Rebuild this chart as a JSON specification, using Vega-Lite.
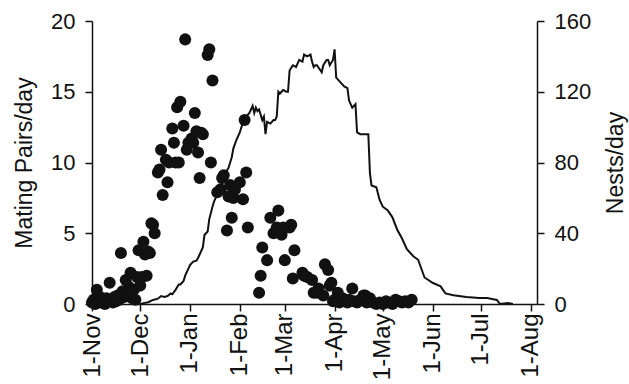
{
  "$schema": "https://vega.github.io/schema/vega-lite/v6.json",
  "width": 445,
  "height": 283,
  "autosize": {"type": "none"},
  "padding": {"left": 92, "top": 21, "right": 92, "bottom": 80},
  "background": "white",
  "config": {
    "view": {"stroke": null},
    "font": "Liberation Sans",
    "axis": {
      "grid": false,
      "domainColor": "#111",
      "domainWidth": 1.5,
      "tickColor": "#111",
      "tickWidth": 1.5,
      "tickSize": 7,
      "labelColor": "#111",
      "labelFont": "Liberation Sans",
      "labelFontSize": 22,
      "titleFont": "Liberation Sans",
      "titleFontSize": 23,
      "titleFontWeight": "normal",
      "titleColor": "#111"
    }
  },
  "datasets": {
    "pairs": [
      {"date": "2000-11-01", "pairs": 0.1},
      {"date": "2000-11-02", "pairs": 0.3},
      {"date": "2000-11-03", "pairs": 0.0},
      {"date": "2000-11-04", "pairs": 1.0},
      {"date": "2000-11-05", "pairs": 0.2},
      {"date": "2000-11-06", "pairs": 0.5},
      {"date": "2000-11-07", "pairs": 0.1},
      {"date": "2000-11-08", "pairs": 0.3},
      {"date": "2000-11-09", "pairs": 0.0},
      {"date": "2000-11-10", "pairs": 0.4},
      {"date": "2000-11-11", "pairs": 0.2},
      {"date": "2000-11-12", "pairs": 1.5},
      {"date": "2000-11-13", "pairs": 0.3},
      {"date": "2000-11-14", "pairs": 0.1},
      {"date": "2000-11-15", "pairs": 0.5},
      {"date": "2000-11-16", "pairs": 0.2},
      {"date": "2000-11-17", "pairs": 0.6},
      {"date": "2000-11-18", "pairs": 0.3},
      {"date": "2000-11-19", "pairs": 3.6},
      {"date": "2000-11-20", "pairs": 0.9},
      {"date": "2000-11-21", "pairs": 0.5},
      {"date": "2000-11-22", "pairs": 1.7},
      {"date": "2000-11-23", "pairs": 0.6},
      {"date": "2000-11-24", "pairs": 1.2},
      {"date": "2000-11-25", "pairs": 2.2},
      {"date": "2000-11-26", "pairs": 0.4},
      {"date": "2000-11-27", "pairs": 1.0},
      {"date": "2000-11-28", "pairs": 0.3},
      {"date": "2000-11-29", "pairs": 1.9},
      {"date": "2000-11-30", "pairs": 3.8},
      {"date": "2000-12-01", "pairs": 1.3},
      {"date": "2000-12-02", "pairs": 1.9},
      {"date": "2000-12-03", "pairs": 4.4},
      {"date": "2000-12-04", "pairs": 3.5},
      {"date": "2000-12-05", "pairs": 2.0},
      {"date": "2000-12-06", "pairs": 3.7},
      {"date": "2000-12-07", "pairs": 3.6},
      {"date": "2000-12-08", "pairs": 5.7},
      {"date": "2000-12-09", "pairs": 5.6},
      {"date": "2000-12-10", "pairs": 5.0},
      {"date": "2000-12-12", "pairs": 9.3},
      {"date": "2000-12-13", "pairs": 9.5},
      {"date": "2000-12-14", "pairs": 10.9},
      {"date": "2000-12-15", "pairs": 7.7},
      {"date": "2000-12-17", "pairs": 10.2},
      {"date": "2000-12-18", "pairs": 8.6},
      {"date": "2000-12-19", "pairs": 10.0},
      {"date": "2000-12-21", "pairs": 12.4},
      {"date": "2000-12-22", "pairs": 11.4},
      {"date": "2000-12-23", "pairs": 10.0},
      {"date": "2000-12-24", "pairs": 13.9},
      {"date": "2000-12-25", "pairs": 10.0},
      {"date": "2000-12-26", "pairs": 14.3},
      {"date": "2000-12-28", "pairs": 12.6},
      {"date": "2000-12-29", "pairs": 18.7},
      {"date": "2000-12-30", "pairs": 10.9},
      {"date": "2000-12-31", "pairs": 11.4},
      {"date": "2001-01-02", "pairs": 11.7},
      {"date": "2001-01-03", "pairs": 11.4},
      {"date": "2001-01-04", "pairs": 13.5},
      {"date": "2001-01-05", "pairs": 12.2},
      {"date": "2001-01-06", "pairs": 10.7},
      {"date": "2001-01-07", "pairs": 8.9},
      {"date": "2001-01-08", "pairs": 12.1},
      {"date": "2001-01-09", "pairs": 12.0},
      {"date": "2001-01-12", "pairs": 17.6},
      {"date": "2001-01-13", "pairs": 18.0},
      {"date": "2001-01-14", "pairs": 10.0},
      {"date": "2001-01-15", "pairs": 15.8},
      {"date": "2001-01-18", "pairs": 7.9},
      {"date": "2001-01-20", "pairs": 8.1},
      {"date": "2001-01-21", "pairs": 8.9},
      {"date": "2001-01-22", "pairs": 9.1},
      {"date": "2001-01-24", "pairs": 5.2},
      {"date": "2001-01-25", "pairs": 7.6},
      {"date": "2001-01-26", "pairs": 8.4},
      {"date": "2001-01-27", "pairs": 6.1},
      {"date": "2001-01-28", "pairs": 7.5},
      {"date": "2001-01-29", "pairs": 8.1},
      {"date": "2001-02-01", "pairs": 8.6},
      {"date": "2001-02-03", "pairs": 7.4},
      {"date": "2001-02-04", "pairs": 13.0},
      {"date": "2001-02-05", "pairs": 9.3},
      {"date": "2001-02-06", "pairs": 5.4},
      {"date": "2001-02-13", "pairs": 0.8},
      {"date": "2001-02-14", "pairs": 2.0},
      {"date": "2001-02-15", "pairs": 4.0},
      {"date": "2001-02-18", "pairs": 3.1},
      {"date": "2001-02-20", "pairs": 6.1},
      {"date": "2001-02-22", "pairs": 5.0},
      {"date": "2001-02-24", "pairs": 5.4},
      {"date": "2001-02-25", "pairs": 6.6},
      {"date": "2001-02-27", "pairs": 4.9},
      {"date": "2001-02-28", "pairs": 5.4},
      {"date": "2001-03-01", "pairs": 3.1},
      {"date": "2001-03-04", "pairs": 5.4},
      {"date": "2001-03-05", "pairs": 5.6},
      {"date": "2001-03-06", "pairs": 1.8},
      {"date": "2001-03-07", "pairs": 3.8},
      {"date": "2001-03-12", "pairs": 2.2},
      {"date": "2001-03-13", "pairs": 2.0},
      {"date": "2001-03-15", "pairs": 1.9},
      {"date": "2001-03-18", "pairs": 1.7},
      {"date": "2001-03-19", "pairs": 0.8},
      {"date": "2001-03-21", "pairs": 0.8},
      {"date": "2001-03-22", "pairs": 1.1},
      {"date": "2001-03-25", "pairs": 0.6},
      {"date": "2001-03-26", "pairs": 2.8},
      {"date": "2001-03-28", "pairs": 2.4},
      {"date": "2001-03-29", "pairs": 1.3},
      {"date": "2001-03-30", "pairs": 1.5},
      {"date": "2001-03-31", "pairs": 0.2},
      {"date": "2001-04-01", "pairs": 0.3},
      {"date": "2001-04-03", "pairs": 0.8},
      {"date": "2001-04-04", "pairs": 0.1},
      {"date": "2001-04-06", "pairs": 0.4},
      {"date": "2001-04-07", "pairs": 0.2},
      {"date": "2001-04-09", "pairs": 0.1},
      {"date": "2001-04-10", "pairs": 0.3},
      {"date": "2001-04-12", "pairs": 1.1},
      {"date": "2001-04-13", "pairs": 0.2},
      {"date": "2001-04-15", "pairs": 0.1},
      {"date": "2001-04-17", "pairs": 0.3},
      {"date": "2001-04-19", "pairs": 0.6},
      {"date": "2001-04-20", "pairs": 0.6},
      {"date": "2001-04-21", "pairs": 0.1},
      {"date": "2001-04-23", "pairs": 0.4},
      {"date": "2001-04-25", "pairs": 0.1},
      {"date": "2001-04-27", "pairs": 0.0},
      {"date": "2001-04-29", "pairs": 0.1},
      {"date": "2001-05-01", "pairs": 0.0},
      {"date": "2001-05-03", "pairs": 0.2},
      {"date": "2001-05-05", "pairs": 0.1},
      {"date": "2001-05-07", "pairs": 0.0},
      {"date": "2001-05-09", "pairs": 0.3},
      {"date": "2001-05-11", "pairs": 0.2},
      {"date": "2001-05-13", "pairs": 0.1},
      {"date": "2001-05-15", "pairs": 0.2},
      {"date": "2001-05-17", "pairs": 0.1},
      {"date": "2001-05-19", "pairs": 0.3}
    ],
    "nests": [
      {"date": "2000-12-01", "nests": 0},
      {"date": "2000-12-03", "nests": 0.5},
      {"date": "2000-12-06", "nests": 1},
      {"date": "2000-12-09", "nests": 2.3},
      {"date": "2000-12-12", "nests": 3},
      {"date": "2000-12-14", "nests": 4.5},
      {"date": "2000-12-16", "nests": 4},
      {"date": "2000-12-18", "nests": 4.5},
      {"date": "2000-12-20", "nests": 6},
      {"date": "2000-12-21", "nests": 5.5},
      {"date": "2000-12-23", "nests": 8},
      {"date": "2000-12-25", "nests": 11},
      {"date": "2000-12-26", "nests": 11},
      {"date": "2000-12-28", "nests": 13},
      {"date": "2000-12-29", "nests": 16},
      {"date": "2000-12-31", "nests": 20},
      {"date": "2001-01-01", "nests": 22},
      {"date": "2001-01-03", "nests": 24},
      {"date": "2001-01-05", "nests": 24.5},
      {"date": "2001-01-06", "nests": 26},
      {"date": "2001-01-07", "nests": 28},
      {"date": "2001-01-09", "nests": 32},
      {"date": "2001-01-10", "nests": 39},
      {"date": "2001-01-12", "nests": 41},
      {"date": "2001-01-13", "nests": 48},
      {"date": "2001-01-15", "nests": 55},
      {"date": "2001-01-16", "nests": 58},
      {"date": "2001-01-17", "nests": 60},
      {"date": "2001-01-18", "nests": 63},
      {"date": "2001-01-20", "nests": 66},
      {"date": "2001-01-21", "nests": 68},
      {"date": "2001-01-23", "nests": 74},
      {"date": "2001-01-25", "nests": 77},
      {"date": "2001-01-26", "nests": 80},
      {"date": "2001-01-27", "nests": 83},
      {"date": "2001-01-28", "nests": 88},
      {"date": "2001-01-30", "nests": 93},
      {"date": "2001-02-01", "nests": 97},
      {"date": "2001-02-02", "nests": 100},
      {"date": "2001-02-04", "nests": 104},
      {"date": "2001-02-05", "nests": 106},
      {"date": "2001-02-07", "nests": 108},
      {"date": "2001-02-09", "nests": 112},
      {"date": "2001-02-10", "nests": 108},
      {"date": "2001-02-11", "nests": 111},
      {"date": "2001-02-12", "nests": 109},
      {"date": "2001-02-13", "nests": 110},
      {"date": "2001-02-15", "nests": 104},
      {"date": "2001-02-16", "nests": 106},
      {"date": "2001-02-17", "nests": 96},
      {"date": "2001-02-18", "nests": 103},
      {"date": "2001-02-20", "nests": 102},
      {"date": "2001-02-22", "nests": 104},
      {"date": "2001-02-23", "nests": 104},
      {"date": "2001-02-24", "nests": 106},
      {"date": "2001-02-25", "nests": 120},
      {"date": "2001-02-26", "nests": 119},
      {"date": "2001-02-28", "nests": 121},
      {"date": "2001-03-02", "nests": 120},
      {"date": "2001-03-03", "nests": 120},
      {"date": "2001-03-04", "nests": 132},
      {"date": "2001-03-06", "nests": 135},
      {"date": "2001-03-08", "nests": 134},
      {"date": "2001-03-09", "nests": 136},
      {"date": "2001-03-10", "nests": 138},
      {"date": "2001-03-12", "nests": 137},
      {"date": "2001-03-13", "nests": 141},
      {"date": "2001-03-15", "nests": 140},
      {"date": "2001-03-17", "nests": 141},
      {"date": "2001-03-18", "nests": 137},
      {"date": "2001-03-19", "nests": 134},
      {"date": "2001-03-20", "nests": 135},
      {"date": "2001-03-21", "nests": 135},
      {"date": "2001-03-24", "nests": 131},
      {"date": "2001-03-25", "nests": 135},
      {"date": "2001-03-27", "nests": 138},
      {"date": "2001-03-28", "nests": 138},
      {"date": "2001-03-29", "nests": 135},
      {"date": "2001-03-31", "nests": 138},
      {"date": "2001-04-01", "nests": 144},
      {"date": "2001-04-02", "nests": 128},
      {"date": "2001-04-03", "nests": 127},
      {"date": "2001-04-05", "nests": 125},
      {"date": "2001-04-07", "nests": 123},
      {"date": "2001-04-09", "nests": 122},
      {"date": "2001-04-10", "nests": 115},
      {"date": "2001-04-12", "nests": 111},
      {"date": "2001-04-14", "nests": 113},
      {"date": "2001-04-15", "nests": 97},
      {"date": "2001-04-17", "nests": 96},
      {"date": "2001-04-22", "nests": 96},
      {"date": "2001-04-23", "nests": 74},
      {"date": "2001-04-24", "nests": 67},
      {"date": "2001-04-27", "nests": 66},
      {"date": "2001-04-29", "nests": 59},
      {"date": "2001-05-01", "nests": 55},
      {"date": "2001-05-04", "nests": 53},
      {"date": "2001-05-07", "nests": 49},
      {"date": "2001-05-10", "nests": 42},
      {"date": "2001-05-13", "nests": 37},
      {"date": "2001-05-16", "nests": 31},
      {"date": "2001-05-20", "nests": 27},
      {"date": "2001-05-23", "nests": 25},
      {"date": "2001-05-27", "nests": 15},
      {"date": "2001-06-01", "nests": 12},
      {"date": "2001-06-06", "nests": 10},
      {"date": "2001-06-09", "nests": 6},
      {"date": "2001-06-14", "nests": 5},
      {"date": "2001-06-22", "nests": 4},
      {"date": "2001-06-30", "nests": 3.4},
      {"date": "2001-07-05", "nests": 3.4},
      {"date": "2001-07-11", "nests": 2.3},
      {"date": "2001-07-13", "nests": 0},
      {"date": "2001-07-18", "nests": 0.6},
      {"date": "2001-07-21", "nests": 0}
    ]
  },
  "encoding": {
    "x": {
      "field": "date",
      "type": "temporal",
      "scale": {
        "type": "utc",
        "domain": [
          {"year": 2000, "month": 11, "date": 1, "utc": true},
          {"year": 2001, "month": 8, "date": 5, "utc": true}
        ]
      },
      "axis": {
        "title": null,
        "labelAngle": -90,
        "labelPadding": 2,
        "labelFontSize": 24,
        "values": [
          {"year": 2000, "month": 11, "date": 1, "utc": true},
          {"year": 2000, "month": 12, "date": 1, "utc": true},
          {"year": 2001, "month": 1, "date": 1, "utc": true},
          {"year": 2001, "month": 2, "date": 1, "utc": true},
          {"year": 2001, "month": 3, "date": 1, "utc": true},
          {"year": 2001, "month": 4, "date": 1, "utc": true},
          {"year": 2001, "month": 5, "date": 1, "utc": true},
          {"year": 2001, "month": 6, "date": 1, "utc": true},
          {"year": 2001, "month": 7, "date": 1, "utc": true},
          {"year": 2001, "month": 8, "date": 1, "utc": true}
        ],
        "labelExpr": "utcFormat(datum.value, '%-d-%b')"
      }
    }
  },
  "layer": [
    {
      "data": {"name": "pairs"},
      "mark": {"type": "circle", "size": 145, "color": "#111", "opacity": 1},
      "encoding": {
        "y": {
          "field": "pairs",
          "type": "quantitative",
          "scale": {"domain": [0, 20], "nice": false, "zero": true},
          "axis": {
            "orient": "left",
            "title": "Mating Pairs/day",
            "values": [0, 5, 10, 15, 20],
            "labelPadding": 10,
            "titlePadding": 14
          }
        }
      }
    },
    {
      "data": {"name": "nests"},
      "mark": {"type": "line", "color": "#111", "strokeWidth": 2},
      "encoding": {
        "y": {
          "field": "nests",
          "type": "quantitative",
          "scale": {"domain": [0, 160], "nice": false},
          "axis": {
            "orient": "right",
            "title": "Nests/day",
            "values": [0, 40, 80, 120, 160],
            "labelPadding": 10,
            "titlePadding": 14,
            "titleAngle": -90,
            "titleBaseline": "top"
          }
        }
      }
    }
  ],
  "resolve": {"scale": {"y": "independent"}}
}
